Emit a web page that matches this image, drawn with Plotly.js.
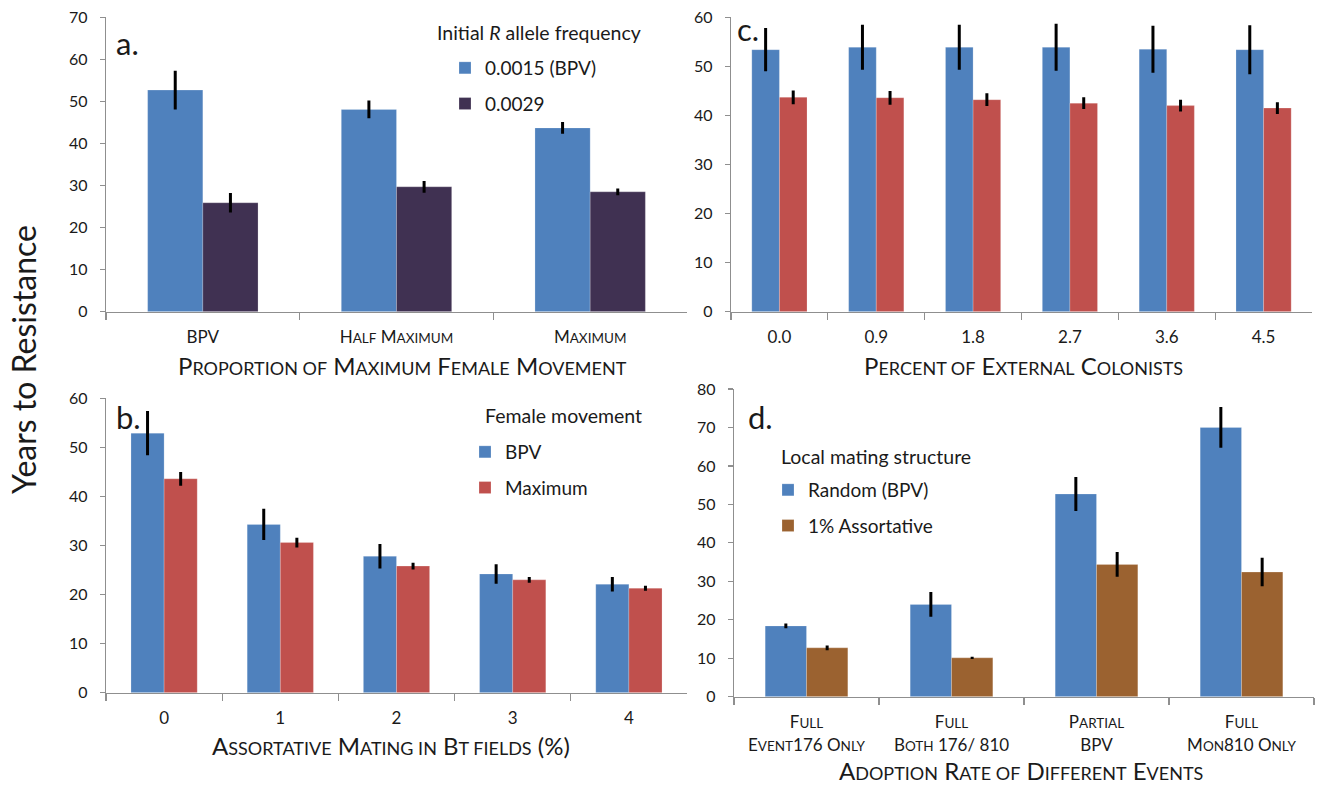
<!DOCTYPE html>
<html><head><meta charset="utf-8">
<script src="https://cdn.plot.ly/plotly-3.0.1.min.js"></script>
<style>html,body{margin:0;padding:0;background:#fff;} #chart{width:1319px;height:786px;}</style>
</head><body><div id="chart"></div>
<script>
// ---------- DATA ----------
// Panel a
const aCategories = ['BPV', 'Half Maximum', 'Maximum'];
const scT = t => '<span style="font-size:13.5px">' + t + '</span>';
const aTickLabels = ['BPV', 'H' + scT('ALF') + ' M' + scT('AXIMUM'), 'M' + scT('AXIMUM')];
const aNames = ['0.0015 (BPV)', '0.0029'];
const aLow = [52.7, 48.1, 43.7];
const aLowErr = [4.6, 2.1, 1.4];
const aHigh = [25.9, 29.7, 28.5];
const aHighErr = [2.3, 1.4, 0.8];

// Panel b
const bCategories = ['0', '1', '2', '3', '4'];
const bNames = ['BPV', 'Maximum'];
const bBPV = [52.9, 34.3, 27.8, 24.2, 22.1];
const bBPVErr = [4.5, 3.2, 2.5, 2.0, 1.5];
const bMax = [43.6, 30.6, 25.8, 23.0, 21.3];
const bMaxErr = [1.4, 1.0, 0.7, 0.6, 0.5];

// Panel c
const cCategories = ['0.0', '0.9', '1.8', '2.7', '3.6', '4.5'];
const cBPV = [53.4, 53.9, 53.9, 53.9, 53.5, 53.4];
const cBPVErr = [4.4, 4.6, 4.6, 4.8, 4.8, 5.0];
const cMax = [43.7, 43.6, 43.2, 42.5, 42.0, 41.5];
const cMaxErr = [1.4, 1.4, 1.3, 1.2, 1.2, 1.2];

// Panel d
const dCategories = ['Full Event176 Only', 'Full Both 176/ 810', 'Partial BPV', 'Full Mon810 Only'];
const dTickLabels = [
  'F' + scT('ULL') + '<br>E' + scT('VENT') + '176 O' + scT('NLY'),
  'F' + scT('ULL') + '<br>B' + scT('OTH') + ' 176/ 810',
  'P' + scT('ARTIAL') + '<br>BPV',
  'F' + scT('ULL') + '<br>M' + scT('ON') + '810 O' + scT('NLY')
];
const dNames = ['Random (BPV)', '1% Assortative'];
const dRandom = [18.4, 24.0, 52.7, 70.0];
const dRandomErr = [0.6, 3.2, 4.4, 5.3];
const dAssort = [12.7, 10.1, 34.4, 32.4];
const dAssortErr = [0.6, 0.3, 3.2, 3.7];

// ---------- STYLE ----------
const W = 1319, H = 786;
const BLUE = '#4F81BD', PURPLE = '#403152', RED = '#C0504D', BROWN = '#9B6230';
const FONT = 'Lato, "Open Sans", sans-serif';
const TXT = '#1a1a1a';
const AX = '#8f8f8f';
const px = v => v / W;
const py = v => 1 - v / H;

function bar(x, y, err, color, name, xa, ya, legend, group, show) {
  return {
    type: 'bar', x: x, y: y, name: name, xaxis: xa, yaxis: ya,
    marker: {color: color, line: {width: 0.6, color: 'rgba(255,255,255,0.35)'}},
    error_y: {type: 'data', array: err, visible: true, color: '#000', thickness: 3, width: 0},
    legend: legend, legendgroup: group, showlegend: show, hoverinfo: 'skip'
  };
}

const data = [
  bar(aCategories, aLow, aLowErr, BLUE, aNames[0], 'x', 'y', 'legend', 'a1', true),
  bar(aCategories, aHigh, aHighErr, PURPLE, aNames[1], 'x', 'y', 'legend', 'a2', true),
  bar(bCategories, bBPV, bBPVErr, BLUE, bNames[0], 'x2', 'y2', 'legend2', 'b1', true),
  bar(bCategories, bMax, bMaxErr, RED, bNames[1], 'x2', 'y2', 'legend2', 'b2', true),
  bar(cCategories, cBPV, cBPVErr, BLUE, bNames[0], 'x3', 'y3', 'legend2', 'c1', false),
  bar(cCategories, cMax, cMaxErr, RED, bNames[1], 'x3', 'y3', 'legend2', 'c2', false),
  bar(dCategories, dRandom, dRandomErr, BLUE, dNames[0], 'x4', 'y4', 'legend3', 'd1', true),
  bar(dCategories, dAssort, dAssortErr, BROWN, dNames[1], 'x4', 'y4', 'legend3', 'd2', true)
];

function xax(x0, x1, anchor, extra) {
  return Object.assign({
    domain: [px(x0), px(x1)], anchor: anchor, type: 'category',
    showline: true, linecolor: AX, linewidth: 1.3, mirror: false,
    ticks: 'outside', tickson: 'boundaries', ticklen: 7, tickcolor: AX, tickwidth: 1.3,
    showgrid: false, zeroline: false, fixedrange: true, ticklabelstandoff: 10,
    tickfont: {family: FONT, size: 17, color: TXT}
  }, extra || {});
}
function yax(y0, y1, max, anchor) {
  return {
    domain: [py(y0), py(y1)], anchor: anchor, range: [0, max], dtick: 10,
    showline: true, linecolor: AX, linewidth: 1.3,
    ticks: 'outside', ticklen: 5, tickcolor: AX, tickwidth: 1.3, ticklabelstandoff: 9,
    showgrid: false, zeroline: false, fixedrange: true,
    tickfont: {family: FONT, size: 16, color: TXT}
  };
}

function ann(x, y, text, size, xanchor, extra) {
  return Object.assign({
    xref: 'paper', yref: 'paper', x: px(x), y: py(y), text: text, showarrow: false,
    xanchor: xanchor || 'left', yanchor: 'middle',
    font: {family: FONT, size: size, color: TXT}
  }, extra || {});
}
const s18 = t => '<span style="font-size:18px">' + t + '</span>';

const legendBase = {
  xanchor: 'left', yanchor: 'top', bgcolor: 'rgba(0,0,0,0)', borderwidth: 0,
  font: {family: FONT, size: 19, color: TXT}, tracegroupgap: 8, itemclick: false, itemdoubleclick: false
};

const layout = {
  width: W, height: H, margin: {l: 0, r: 0, t: 0, b: 0},
  paper_bgcolor: '#fff', plot_bgcolor: '#fff',
  barmode: 'group', bargap: 0.43, bargroupgap: 0,
  font: {family: FONT, color: TXT},
  xaxis: xax(106, 687, 'y', {tickvals: aCategories, ticktext: aTickLabels}),
  yaxis: yax(311.7, 17.3, 70, 'x'),
  xaxis2: xax(106, 687, 'y2', {tickfont: {family: FONT, size: 17, color: TXT}}),
  yaxis2: yax(692.7, 398.3, 60, 'x2'),
  xaxis3: xax(731, 1312, 'y3'),
  yaxis3: yax(311.7, 17.3, 60, 'x3'),
  xaxis4: xax(734, 1314, 'y4', {tickvals: dCategories, ticktext: dTickLabels}),
  yaxis4: yax(696.7, 389, 80, 'x4'),
  legend: Object.assign({x: px(445), y: py(49)}, legendBase),
  legend2: Object.assign({x: px(465), y: py(433)}, legendBase),
  legend3: Object.assign({x: px(768), y: py(471)}, legendBase),
  annotations: [
    ann(23, 360, 'Years to Resistance', 32, 'center', {textangle: -90}),
    ann(114, 43, 'a.', 31),
    ann(114, 417, 'b.', 31),
    ann(735, 29, 'c.', 31),
    ann(746, 417, 'd.', 31),
    ann(435, 32, 'Initial <i>R</i> allele frequency', 19.5),
    ann(483, 415, 'Female movement', 19.5),
    ann(779, 457, 'Local mating structure', 19.5),
    ann(402, 365, 'P' + s18('ROPORTION OF') + ' M' + s18('AXIMUM') + ' F' + s18('EMALE') + ' M' + s18('OVEMENT'), 24, 'center'),
    ann(391, 745, 'A' + s18('SSORTATIVE') + ' M' + s18('ATING IN') + ' B' + s18('T FIELDS') + ' (%)', 24, 'center'),
    ann(1023, 365, 'P' + s18('ERCENT OF') + ' E' + s18('XTERNAL') + ' C' + s18('OLONISTS'), 24, 'center'),
    ann(1021, 770, 'A' + s18('DOPTION') + ' R' + s18('ATE OF') + ' D' + s18('IFFERENT') + ' E' + s18('VENTS'), 24, 'center')
  ]
};

Plotly.newPlot('chart', data, layout, {staticPlot: true, displayModeBar: false});
</script>
</body></html>
